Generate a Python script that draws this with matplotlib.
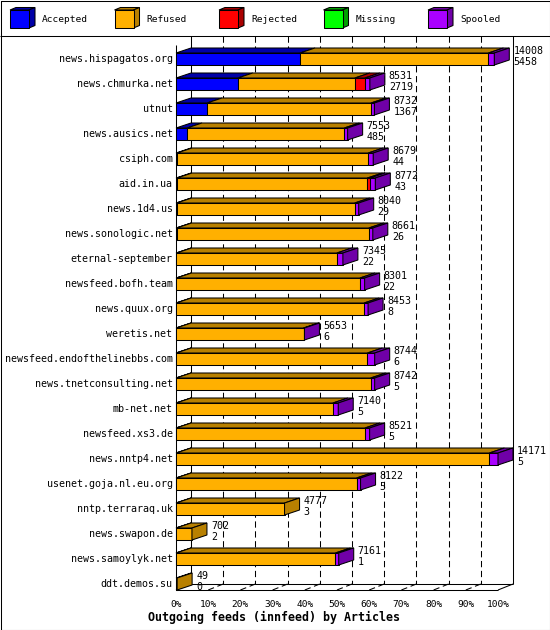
import numpy as np
import matplotlib
matplotlib.use("Agg")
import matplotlib.pyplot as plt
from matplotlib.patches import Polygon

# ---------------- data ----------------
hosts = ["news.hispagatos.org", "news.chmurka.net", "utnut", "news.ausics.net",
         "csiph.com", "aid.in.ua", "news.1d4.us", "news.sonologic.net",
         "eternal-september", "newsfeed.bofh.team", "news.quux.org", "weretis.net",
         "newsfeed.endofthelinebbs.com", "news.tnetconsulting.net", "mb-net.net",
         "newsfeed.xs3.de", "news.nntp4.net", "usenet.goja.nl.eu.org",
         "nntp.terraraq.uk", "news.swapon.de", "news.samoylyk.net", "ddt.demos.su"]
totals = [14008, 8531, 8732, 7553, 8679, 8772, 8040, 8661, 7345, 8301, 8453,
          5653, 8744, 8742, 7140, 8521, 14171, 8122, 4777, 702, 7161, 49]
accepted = [5458, 2719, 1367, 485, 44, 43, 29, 26, 22, 22, 8, 6, 6, 5, 5, 5, 5,
            5, 3, 2, 1, 0]
refused = [8290, 5152, 7215, 6923, 8415, 8384, 7836, 8460, 7058, 8074, 8270,
           5607, 8418, 8562, 6900, 8311, 13786, 7942, 4774, 700, 7015, 49]
rejected = [0, 440, 0, 0, 0, 115, 0, 0, 0, 0, 0, 0, 0, 0, 0, 0, 0, 0, 0, 0, 0, 0]
missing = [0] * 22
spooled = [260, 220, 150, 145, 220, 230, 175, 175, 265, 205, 175, 40, 320, 175,
           235, 205, 380, 175, 0, 0, 145, 0]
series_names = ["Accepted", "Refused", "Rejected", "Missing", "Spooled"]
face_colors = ["#0000FF", "#FFB000", "#FF0000", "#00FF00", "#AA00FF"]
dark_colors = ["#0000A8", "#B88000", "#AA0000", "#00A000", "#7000A8"]
pct_ticks = [0, 10, 20, 30, 40, 50, 60, 70, 80, 90, 100]
title = "Outgoing feeds (innfeed) by Articles"

# ---------------- layout ----------------
W, Hh = 550, 630
fig = plt.figure(figsize=(W / 100, Hh / 100), dpi=100)
ax = fig.add_axes([0, 0, 1, 1])
X0, PX = 176.0, 322.0 / 100.0      # px of 0%, px per percent
Y0, PY = 59.0, 25.0                # px of first row, px per row
ax.set_xlim((0 - X0) / PX, (W - X0) / PX)
ax.set_ylim((Hh - Y0) / PY, (0 - Y0) / PY)
ax.axis("off")

def X(px):
    return (px - X0) / PX

def Y(py):
    return (py - Y0) / PY

DX = 15 / PX        # depth offset in x (data)
DY = -5 / PY        # depth offset in y (data)
HALF = 6 / PY       # half bar height
LW = 0.75
MONO = "DejaVu Sans Mono"

def line(x, y, **kw):
    kw.setdefault("color", "black")
    kw.setdefault("lw", LW)
    ax.plot(x, y, solid_capstyle="butt", **kw)

# outer border and separator
line([X(0.5), X(549.5), X(549.5), X(0.5), X(0.5)],
     [Y(0.5), Y(0.5), Y(629.5), Y(629.5), Y(0.5)], zorder=10)
line([X(0), X(550)], [Y(35.5), Y(35.5)], zorder=10)

# legend
for i, (name, fc, dc) in enumerate(zip(series_names, face_colors, dark_colors)):
    lx = 10 + 104.5 * i
    ax.add_patch(Polygon([(X(lx), Y(10)), (X(lx + 6), Y(7.5)), (X(lx + 25), Y(7.5)),
                          (X(lx + 19), Y(10))], closed=True, fc=dc, ec="black", lw=LW))
    ax.add_patch(Polygon([(X(lx + 19), Y(10)), (X(lx + 25), Y(7.5)), (X(lx + 25), Y(25.5)),
                          (X(lx + 19), Y(28))], closed=True, fc=dc, ec="black", lw=LW))
    ax.add_patch(Polygon([(X(lx), Y(10)), (X(lx + 19), Y(10)), (X(lx + 19), Y(28)),
                          (X(lx), Y(28))], closed=True, fc=fc, ec="black", lw=LW))
    ax.text(X(lx + 32), Y(19.5), name, family=MONO, fontsize=6.8, va="center", ha="left")

# frame: walls, gridlines, floor
dash = (0, (6, 3.5))
n = len(hosts)
ybot_back = Y(584)
ybot_front = Y(590)
for p in pct_ticks[1:-1]:
    line([p + DX, p + DX], [Y(36), ybot_back], ls=dash, zorder=1)
    line([p, p + DX], [ybot_front, ybot_back], ls=dash, zorder=1)
line([DX, DX], [Y(36), ybot_back], zorder=2)
line([100 + DX, 100 + DX], [Y(36), ybot_back], zorder=2)
line([0, 0], [Y(45), ybot_front], zorder=2)
line([DX, 100 + DX], [ybot_back, ybot_back], zorder=2)
line([0, 100], [ybot_front, ybot_front], zorder=2)
line([100, 100 + DX], [ybot_front, ybot_back], zorder=2)
line([0, DX], [ybot_front, ybot_back], zorder=2)

for p in pct_ticks:
    ax.text(p, Y(604), f"{p}%", family=MONO, fontsize=6.8, ha="center", va="center")
ax.text(X(274), Y(617), title, family=MONO, fontsize=8.4, fontweight="bold",
        ha="center", va="center")

# bars
vmax = max(totals)
data = np.array([accepted, refused, rejected, missing, spooled], dtype=float) / vmax * 100
for r in range(n):
    y = r
    ytop, ybot = y - HALF, y + HALF
    left = 0.0
    last = None
    for s in range(5):
        w = data[s, r]
        if w <= 0:
            continue
        ax.barh(y, w, left=left, height=2 * HALF, color=face_colors[s],
                edgecolor="black", lw=LW, zorder=4)
        ax.add_patch(Polygon([(left, ytop), (left + DX, ytop + DY),
                              (left + w + DX, ytop + DY), (left + w, ytop)],
                             closed=True, fc=dark_colors[s], ec="black", lw=LW, zorder=4))
        left += w
        last = s
    if last is not None:
        ax.add_patch(Polygon([(left, ytop), (left + DX, ytop + DY),
                              (left + DX, ybot + DY), (left, ybot)],
                             closed=True, fc=dark_colors[last], ec="black", lw=LW, zorder=4))
    ax.text(left + DX + 4 / PX, y - 8.5 / PY, str(totals[r]), family=MONO,
            fontsize=7.2, ha="left", va="center", zorder=6)
    ax.text(left + DX + 4 / PX, y + 2.5 / PY, str(accepted[r]), family=MONO,
            fontsize=7.2, ha="left", va="center", zorder=6)
    ax.text(X(172.5), y, hosts[r], family=MONO, fontsize=7.2, ha="right", va="center")

fig.savefig("out.png", dpi=100, facecolor="white")
